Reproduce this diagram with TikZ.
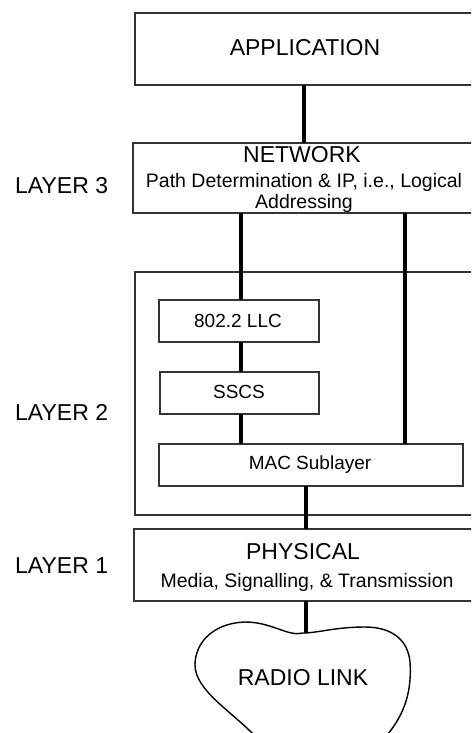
\documentclass[tikz,border=0pt]{standalone}
\usepackage{fontspec}
\setmainfont{Liberation Sans}
\begin{document}
\begin{tikzpicture}[x=1pt,y=-1pt,
  box/.style={draw=black!80, line width=1.3pt, rectangle, inner sep=0pt, outer sep=0pt},
  conn/.style={line width=4.6pt, black},
  blobline/.style={line width=1.4pt, black},
  big/.style={font=\fontsize{23}{27}\selectfont, anchor=base, inner sep=0pt},
  med/.style={font=\fontsize{19.5}{23}\selectfont, anchor=base, inner sep=0pt},
  small/.style={font=\fontsize{19}{23}\selectfont, anchor=base, inner sep=0pt},
  lbl/.style={font=\fontsize{23}{27}\selectfont, anchor=base west, inner sep=0pt}]
\useasboundingbox (0,0) rectangle (471,733);
\clip (0,0) rectangle (471,733);

% boxes
\node[box, minimum width=340pt, minimum height=72pt] (app) at (305,49) {};
\node[box, minimum width=342pt, minimum height=70pt] (network) at (304,178) {};
\node[box, minimum width=340pt, minimum height=243pt] (layer2) at (305,393.5) {};
\node[box, minimum width=160pt, minimum height=42pt] (llc) at (239,321) {};
\node[box, minimum width=159pt, minimum height=42pt] (sscs) at (239.5,393) {};
\node[box, minimum width=304pt, minimum height=42pt] (mac) at (311,465) {};
\node[box, minimum width=341pt, minimum height=72pt] (physical) at (304.5,565) {};

% radio link blob
\draw[blobline] (303,633)
  .. controls (288,637) and (272,622) .. (245,622)
  .. controls (214,623) and (195,642) .. (195,665)
  .. controls (195,690) and (232,712) .. (254,735)
  .. controls (275,755) and (368,755) .. (387,735)
  .. controls (405,714) and (412,690) .. (410,662)
  .. controls (408,640) and (392,627) .. (365,627)
  .. controls (335,627) and (318,633) .. (303,633) -- cycle;
\coordinate (blobtop) at (306,633);

% texts
\node[big] (apptxt) at (305,56) {APPLICATION};
\node[big] (nettxt) at (302,162) {NETWORK};
\node[med] (nettxt2) at (304,187) {Path Determination \& IP, i.e., Logical};
\node[med] (nettxt3) at (304,208) {Addressing};
\node[small] (llctxt) at (238,327) {802.2 LLC};
\node[small] (sscstxt) at (239,398) {SSCS};
\node[small] (mactxt) at (310,469) {MAC Sublayer};
\node[big] (phystxt) at (303,559) {PHYSICAL};
\node[med] (phystxt2) at (307,587) {Media, Signalling, \& Transmission};
\node[big] (radiotxt) at (303,685) {RADIO LINK};

\node[lbl] (l3) at (15,193) {LAYER 3};
\node[lbl] (l2) at (15,420) {LAYER 2};
\node[lbl] (l1) at (15,573) {LAYER 1};

% connector columns
\coordinate (cA) at (304,0);
\coordinate (cL) at (241,0);
\coordinate (cR) at (405,0);
\coordinate (cP) at (306,0);

\draw[conn] (app.south -| cA) -- (network.north -| cA);
\draw[conn] (network.south -| cL) -- (llc.north -| cL);
\draw[conn] (llc.south -| cL) -- (sscs.north -| cL);
\draw[conn] (sscs.south -| cL) -- (mac.north -| cL);
\draw[conn] (network.south -| cR) -- (mac.north -| cR);
\draw[conn] (mac.south -| cP) -- (physical.north -| cP);
\draw[conn] (physical.south -| cP) -- (blobtop);
\end{tikzpicture}
\end{document}
